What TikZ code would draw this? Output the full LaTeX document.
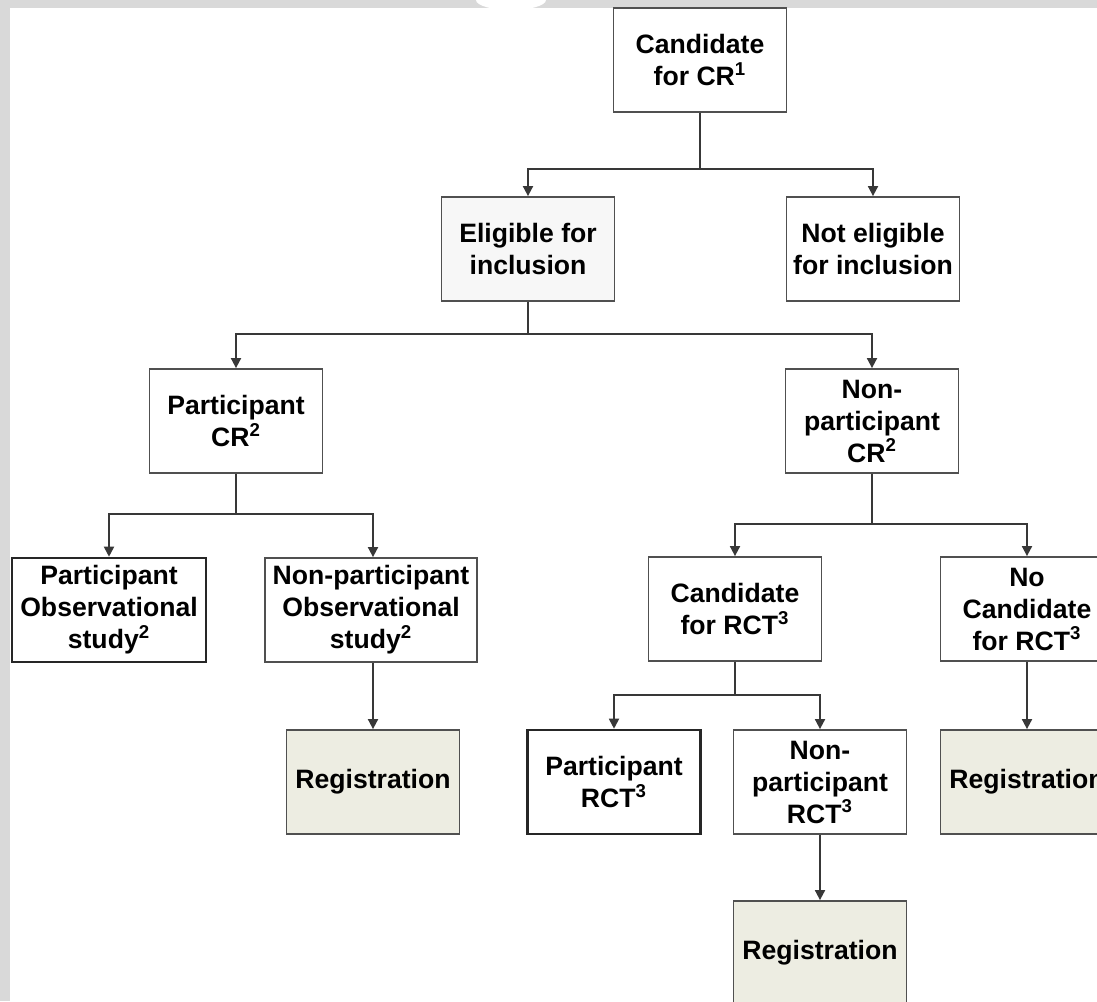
\documentclass[tikz,border=0pt]{standalone}
\usepackage{fontspec}
\setmainfont{Liberation Sans}
\usetikzlibrary{arrows.meta}

\definecolor{framegray}{HTML}{D9D9D9}
\definecolor{boxgray}{HTML}{505050}
\definecolor{linegray}{HTML}{383838}
\definecolor{regfill}{HTML}{EDEDE2}
\definecolor{eligfill}{HTML}{F7F7F7}

\begin{document}
\begin{tikzpicture}[x=0.5pt, y=-0.5pt,
    box/.style={draw=boxgray, line width=0.9pt, fill=white, minimum width=86.5pt,
      minimum height=52pt, inner sep=0pt, align=center,
      font=\fontsize{13.3}{16}\selectfont\bfseries},
    darkbox/.style={box, draw=black!85, line width=1.3pt},
    regbox/.style={box, fill=regfill},
    arr/.style={draw=linegray, line width=0.9pt, -{Triangle[length=5pt,width=5pt]}}]
    \useasboundingbox (0,0) rectangle (1097,1001);
    \clip (0,0) rectangle (1097,1001);
    % frame
    \fill[framegray] (0,0) rectangle (1097,1001);
    \fill[white] (10,8) rectangle (1097,1001);
    \fill[white] (511,0) ellipse [x radius=35, y radius=10];

    \node[box] (cand) at (700,60) {Candidate\\for CR\textsuperscript{1}};
    \node[box, fill=eligfill] (elig) at (528,249) {Eligible for\\inclusion};
    \node[box] (noelig) at (873,249) {Not eligible\\for inclusion};
    \node[box] (pcr) at (236,421) {Participant\\CR\textsuperscript{2}};
    \node[box] (npcr) at (872,421) {Non-\\participant\\CR\textsuperscript{2}};
    \node[darkbox, minimum width=97pt] (pobs) at (109,610) {Participant\\Observational\\study\textsuperscript{2}};
    \node[box, minimum width=106pt] (npobs) at (371,610) {Non-participant\\Observational\\study\textsuperscript{2}};
    \node[regbox] (regl) at (373,782) {Registration};
    \node[box] (crct) at (735,609) {Candidate\\for RCT\textsuperscript{3}};
    \node[box] (nocrct) at (1027,609) {No\\Candidate\\for RCT\textsuperscript{3}};
    \node[darkbox] (prct) at (614,782) {Participant\\RCT\textsuperscript{3}};
    \node[box] (nprct) at (820,782) {Non-\\participant\\RCT\textsuperscript{3}};
    \node[regbox] (regr) at (1027,782) {Registration};
    \node[regbox] (regb) at (820,953) {Registration};

    \draw[arr] (cand.south) -- ++(0,56) -| (elig);
    \draw[arr] (cand.south) -- ++(0,56) -| (noelig);
    \draw[arr] (elig.south) -- ++(0,32) -| (pcr);
    \draw[arr] (elig.south) -- ++(0,32) -| (npcr);
    \draw[arr] (pcr.south) -- ++(0,40) -| (pobs);
    \draw[arr] (pcr.south) -- ++(0,40) -| (npobs.north -| regl.north);
    \draw[arr] (npcr.south) -- ++(0,50) -| (crct);
    \draw[arr] (npcr.south) -- ++(0,50) -| (nocrct);
    \draw[arr] (crct.south) -- ++(0,33) -| (prct);
    \draw[arr] (crct.south) -- ++(0,33) -| (nprct);
    \draw[arr] (npobs.south -| regl.north) -- (regl);
    \draw[arr] (nprct) -- (regb);
    \draw[arr] (nocrct) -- (regr);
\end{tikzpicture}
\end{document}
